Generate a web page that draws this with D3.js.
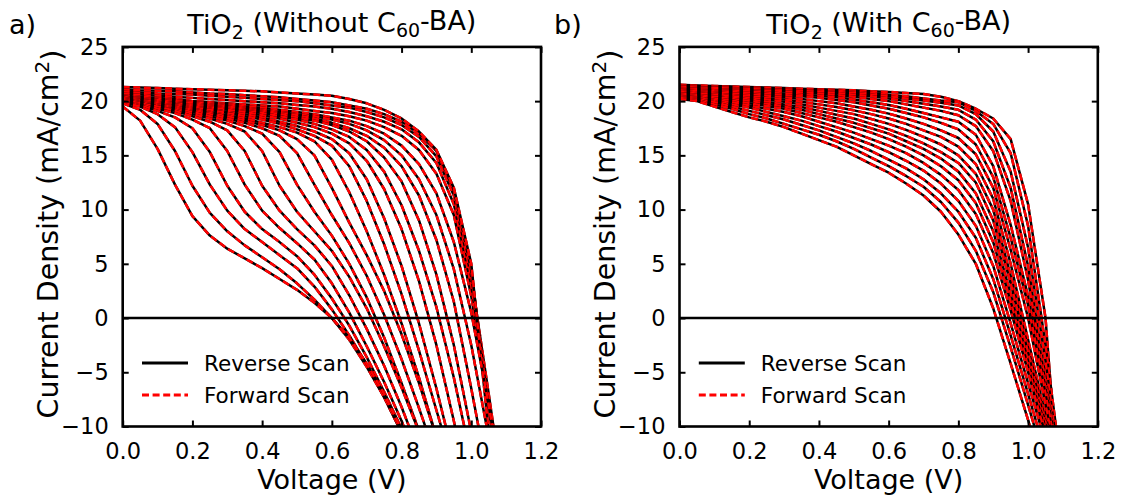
<!DOCTYPE html>
<html><head><meta charset="utf-8">
<script src="https://cdn.jsdelivr.net/npm/d3@7"></script>
<style>body{margin:0;background:#fff} text{font-family:"DejaVu Sans",sans-serif;fill:#000}</style>
</head><body>
<svg id="c" width="1124" height="500"></svg>
<script>
// Voltage grid (V)
const voltage=[0,0.05,0.1,0.15,0.2,0.25,0.3,0.35,0.4,0.45,0.5,0.55,0.6,0.65,0.7,0.75,0.8,0.85,0.9,0.95,1.0,1.05,1.1];
const xTicks=[0,0.2,0.4,0.6,0.8,1.0,1.2];
const yTicks=[-10,-5,0,5,10,15,20,25];
const legendLabels=["Reverse Scan","Forward Scan"];
const titles=["Without","With"];
const panelLetters=["a)","b)"];

// Panel a: TiO2 without C60-BA, current density (mA/cm2) per voltage grid point
const reverseA=[
 [20.4,20.3,20.2,20.1,20.0,19.9,19.8,19.7,19.6,19.5,19.3,19.1,18.9,18.6,18.2,17.6,16.8,15.5,13.3,9.5,2.0,-8.0,-18.0],
 [20.7,20.6,20.5,20.4,20.3,20.2,20.1,20.0,19.9,19.8,19.65,19.5,19.3,19.0,18.6,18.1,17.4,16.2,14.3,10.5,3.0,-7.5,-18.0],
 [20.9,20.8,20.7,20.65,20.6,20.5,20.4,20.3,20.2,20.1,20.0,19.8,19.6,19.4,19.0,18.5,17.8,16.7,14.9,11.3,3.8,-7.0,-18.0],
 [21.1,21.0,20.95,20.9,20.8,20.7,20.65,20.55,20.45,20.35,20.2,20.05,19.9,19.6,19.3,18.8,18.1,17.0,15.4,11.8,4.4,-8.5,-19.0],
 [21.3,21.25,21.2,21.15,21.1,21.05,21.0,20.95,20.9,20.8,20.7,20.6,20.5,20.2,19.8,19.2,18.4,17.2,15.5,12.0,5.0,-10.5,-20.0],
 [20.5,20.4,20.3,20.2,20.0,19.9,19.7,19.5,19.4,19.2,19.0,18.8,18.5,18.2,17.7,17.0,15.9,14.2,11.5,7.0,0.5,-8.0,-18.0],
 [20.4,20.3,20.2,20.1,19.9,19.8,19.6,19.4,19.2,19.0,18.8,18.6,18.3,17.9,17.3,16.4,15.0,12.8,9.5,4.5,-2.5,-11.0],
 [20.4,20.3,20.1,20.0,19.9,19.7,19.5,19.3,19.1,18.9,18.7,18.4,18.0,17.5,16.8,15.7,14.0,11.3,7.2,1.5,-6.5,-15.0],
 [20.4,20.2,20.1,19.9,19.8,19.6,19.4,19.2,19.0,18.8,18.5,18.2,17.8,17.2,16.3,14.8,12.6,9.0,4.0,-2.5,-10.5],
 [20.3,20.2,20.0,19.8,19.7,19.5,19.3,19.1,18.9,18.6,18.3,17.9,17.4,16.7,15.5,13.5,10.4,6.2,1.0,-5.5,-13.0],
 [20.3,20.1,20.0,19.8,19.6,19.4,19.2,19.0,18.7,18.4,18.0,17.6,17.0,16.1,14.5,11.9,8.2,3.4,-2.5,-9.5,-17.0],
 [20.3,20.1,19.9,19.7,19.5,19.3,19.0,18.8,18.5,18.1,17.7,17.2,16.5,15.2,12.8,9.2,4.8,-0.5,-6.5,-13.0],
 [20.3,20.1,19.9,19.7,19.4,19.2,18.9,18.6,18.3,17.9,17.4,16.8,15.9,14.0,10.8,6.8,2.2,-3.0,-8.5,-14.0],
 [20.3,20.0,19.8,19.6,19.3,19.0,18.7,18.4,18.0,17.6,17.1,16.3,14.6,11.6,8.0,4.0,-0.5,-5.5,-11.0],
 [20.2,20.0,19.7,19.5,19.2,18.9,18.6,18.2,17.8,17.3,16.5,15.0,12.0,8.8,5.8,2.5,-1.5,-6.0,-11.0],
 [20.2,19.9,19.7,19.4,19.1,18.8,18.4,18.0,17.5,16.8,15.2,12.3,9.5,6.9,3.9,0.3,-3.8,-8.3,-13.0],
 [20.2,19.9,19.6,19.3,19.0,18.6,18.2,17.7,17.0,15.3,12.3,9.8,7.6,5.0,1.9,-1.8,-6.0,-10.4],
 [20.1,19.8,19.5,19.2,18.8,18.4,17.9,17.2,15.4,12.2,9.8,8.0,6.2,3.8,0.9,-2.6,-6.4,-10.5],
 [20.1,19.8,19.5,19.1,18.6,18.1,17.3,15.4,12.2,9.9,8.2,6.7,4.8,2.1,-1.0,-4.4,-8.2,-12.4],
 [20.0,19.7,19.3,18.9,18.3,17.5,15.4,12.3,9.9,8.3,6.9,5.4,3.2,0.5,-2.6,-5.9,-9.5,-13.5],
 [20.0,19.6,19.1,18.5,17.5,15.3,12.2,9.8,8.2,7.0,5.7,4.0,1.8,-0.7,-3.6,-6.8,-10.2],
 [19.9,19.5,18.8,17.6,15.3,12.3,9.9,8.2,7.0,5.8,4.6,2.9,0.8,-1.6,-4.3,-7.3,-10.6],
 [19.8,19.2,17.9,15.4,12.2,9.7,8.0,6.7,5.6,4.5,3.2,1.7,0.0,-2.0,-4.5,-7.3,-10.5],
 [19.5,18.2,15.6,12.3,9.4,7.6,6.4,5.5,4.6,3.6,2.6,1.4,0.0,-1.8,-4.2,-7.0,-10.3]
];
const forwardA=reverseA;

// Panel b: TiO2 with C60-BA
const reverseB=[
 [21.5,21.45,21.4,21.35,21.3,21.25,21.2,21.15,21.1,21.05,21.0,20.9,20.85,20.75,20.65,20.4,20.0,19.3,18.4,16.5,10.5,0.0,-21.0],
 [21.45,21.4,21.35,21.3,21.25,21.2,21.15,21.1,21.05,20.95,20.85,20.75,20.6,20.45,20.25,20.05,19.9,19.1,17.9,15.2,8.5,-2.5,-15.0],
 [21.35,21.3,21.25,21.2,21.15,21.1,21.05,21.0,20.95,20.85,20.75,20.6,20.45,20.25,20.05,19.85,19.6,18.8,17.2,13.5,6.5,-4.0,-16.0],
 [21.3,21.25,21.2,21.15,21.1,21.05,21.0,20.95,20.85,20.75,20.6,20.45,20.25,20.0,19.75,19.5,19.2,18.3,16.3,12.0,4.8,-5.5,-16.0],
 [21.2,21.15,21.1,21.05,21.0,20.95,20.9,20.8,20.7,20.55,20.4,20.2,20.0,19.7,19.4,19.1,18.7,17.7,15.4,10.8,3.5,-6.0,-16.0],
 [21.15,21.1,21.0,20.95,20.9,20.8,20.7,20.6,20.5,20.35,20.15,19.9,19.65,19.3,18.9,18.5,18.1,16.9,14.0,8.6,2.0,-6.5,-15.0],
 [21.05,21.0,20.9,20.85,20.75,20.65,20.55,20.45,20.3,20.1,19.9,19.6,19.3,18.9,18.5,18.0,17.4,16.0,13.0,7.4,1.2,-7.0,-15.5],
 [21.0,20.9,20.8,20.7,20.6,20.5,20.35,20.2,20.0,19.8,19.5,19.2,18.85,18.4,17.9,17.3,16.6,15.1,12.0,6.3,0.0,-8.0,-16.0],
 [20.9,20.8,20.7,20.55,20.45,20.3,20.15,19.95,19.7,19.45,19.15,18.8,18.4,17.9,17.3,16.7,15.8,14.2,11.0,5.0,-2.0,-9.0,-16.0],
 [20.85,20.7,20.6,20.45,20.3,20.15,19.95,19.7,19.4,19.1,18.8,18.35,17.9,17.35,16.7,16.0,15.0,13.3,10.0,3.9,-2.8,-9.5,-16.0],
 [20.75,20.6,20.45,20.3,20.15,19.95,19.7,19.45,19.1,18.75,18.4,17.9,17.4,16.8,16.1,15.3,14.3,12.5,9.0,3.2,-3.2,-9.8,-16.0],
 [20.7,20.55,20.4,20.2,20.0,19.75,19.5,19.2,18.8,18.4,18.0,17.5,17.0,16.3,15.6,14.7,13.5,11.5,8.0,2.2,-4.0,-10.2],
 [20.6,20.45,20.25,20.05,19.8,19.55,19.3,18.9,18.5,18.1,17.6,17.1,16.5,15.8,15.0,14.0,12.7,10.6,7.0,1.5,-4.5,-10.5],
 [20.5,20.35,20.1,19.9,19.6,19.3,19.0,18.6,18.1,17.6,17.1,16.5,15.9,15.2,14.3,13.2,11.8,9.6,6.0,0.7,-5.0,-10.8],
 [20.45,20.3,20.0,19.7,19.4,19.0,18.6,18.2,17.7,17.2,16.6,16.0,15.3,14.5,13.6,12.4,10.8,8.5,4.8,-0.5,-6.0,-11.5],
 [20.35,20.2,19.9,19.5,19.1,18.7,18.3,17.8,17.3,16.7,16.1,15.4,14.6,13.8,12.8,11.5,9.8,7.4,3.6,-1.6,-7.0,-12.5],
 [20.3,20.1,19.7,19.3,18.8,18.4,17.9,17.4,16.9,16.3,15.6,14.8,14.0,13.1,12.1,10.7,8.8,6.2,2.4,-2.7,-8.0,-13.5],
 [20.2,20.0,19.5,19.0,18.5,18.1,17.6,17.0,16.4,15.8,15.0,14.2,13.4,12.4,11.3,9.8,7.7,5.0,0.9,-4.2,-9.4,-15.0]
];
const forwardB=reverseB;

const svg=d3.select("#c");
const FS_LABEL=27, FS_YLABEL=28.5, FS_TICK=22.5, FS_LEG=21.5;
const LW=2.5, DASH="7,3.6";

function panel(idx, ox, reverse, forward){
  const x=d3.scaleLinear().domain([0,1.2]).range([122.7+ox,541+ox]);
  const y=d3.scaleLinear().domain([-10,25]).range([426.5,46.9]);
  const g=svg.append("g");
  const cid="clip"+idx;
  svg.append("clipPath").attr("id",cid).append("rect")
    .attr("x",x(0)).attr("y",y(25)).attr("width",x(1.2)-x(0)).attr("height",y(-10)-y(25));
  const line=d3.line().x(d=>x(d[0])).y(d=>y(d[1]));
  const cg=g.append("g").attr("clip-path",`url(#${cid})`);
  reverse.forEach((c,k)=>{
    const pr=c.map((j,i)=>[voltage[i],j]);
    const pf=forward[k].map((j,i)=>[voltage[i],j]);
    cg.append("path").attr("d",line(pr)).attr("fill","none").attr("stroke","#000")
      .attr("stroke-width",LW).attr("stroke-linejoin","round");
    cg.append("path").attr("d",line(pf)).attr("fill","none").attr("stroke","#ff0000")
      .attr("stroke-width",LW).attr("stroke-linejoin","round").attr("stroke-dasharray",DASH);
  });
  // zero line
  g.append("line").attr("x1",x(0)).attr("x2",x(1.2)).attr("y1",y(0)).attr("y2",y(0))
    .attr("stroke","#000").attr("stroke-width",2.5);

  // axes
  const ax=[
    d3.axisBottom(x).tickValues(xTicks).tickFormat(d3.format(".1f")).tickSize(-6).tickPadding(17),
    d3.axisTop(x).tickValues(xTicks).tickFormat("").tickSize(-6),
    d3.axisLeft(y).tickValues(yTicks).tickFormat(d=>d<0?"\u2212"+Math.abs(d):d).tickSize(-6).tickPadding(14),
    d3.axisRight(y).tickValues(yTicks).tickFormat("").tickSize(-6)
  ];
  const tr=[`translate(0,${y(-10)})`,`translate(0,${y(25)})`,`translate(${x(0)},0)`,`translate(${x(1.2)},0)`];
  ax.forEach((a,i)=>{
    const ag=g.append("g").attr("transform",tr[i]).call(a);
    ag.select(".domain").remove();
    ag.selectAll(".tick line").attr("stroke","#000").attr("stroke-width",2);
    ag.selectAll(".tick text").style("font-size",FS_TICK+"px").style("font-family","DejaVu Sans").attr("fill","#000");
  });
  g.append("rect").attr("x",x(0)).attr("y",y(25)).attr("width",x(1.2)-x(0)).attr("height",y(-10)-y(25))
    .attr("fill","none").attr("stroke","#000").attr("stroke-width",2.6);

  // title
  const cx=(x(0)+x(1.2))/2;
  const t=g.append("text").attr("x",cx).attr("y",34).attr("text-anchor","middle").style("font-size",FS_LABEL+"px");
  t.append("tspan").text("TiO");
  t.append("tspan").text("2").attr("dy","0.28em").style("font-size","19px");
  t.append("tspan").text(" ("+titles[idx]+" C").attr("dy","-0.28em");
  t.append("tspan").text("60").attr("dy","0.28em").style("font-size","19px");
  t.append("tspan").text("-BA)").attr("dy","-0.28em");

  g.append("text").attr("x",[9,554][idx]).attr("y",34).style("font-size",FS_LABEL+"px").text(panelLetters[idx]);

  g.append("text").attr("x",cx).attr("y",489).attr("text-anchor","middle").style("font-size",FS_LABEL+"px").text("Voltage (V)");
  const yl=g.append("text").attr("transform",`translate(${58+ox},234) rotate(-90)`).attr("text-anchor","middle").style("font-size",FS_YLABEL+"px");
  yl.append("tspan").text("Current Density (mA/cm");
  yl.append("tspan").text("2").attr("dy","-0.45em").style("font-size","20px");
  yl.append("tspan").text(")").attr("dy","0.45em");

  // legend
  const lx0=142+ox, lx1=188+ox;
  g.append("line").attr("x1",lx0).attr("x2",lx1).attr("y1",363).attr("y2",363).attr("stroke","#000").attr("stroke-width",2.8);
  g.append("line").attr("x1",lx0).attr("x2",lx1).attr("y1",395).attr("y2",395).attr("stroke","#ff0000").attr("stroke-width",2.8).attr("stroke-dasharray",DASH);
  legendLabels.forEach((s,i)=>{
    g.append("text").attr("x",204+ox).attr("y",[363,395][i]).attr("dy","0.36em").style("font-size",FS_LEG+"px").text(s);
  });
}
panel(0,0,reverseA,forwardA);
panel(1,556.8,reverseB,forwardB);
</script>
</body></html>
